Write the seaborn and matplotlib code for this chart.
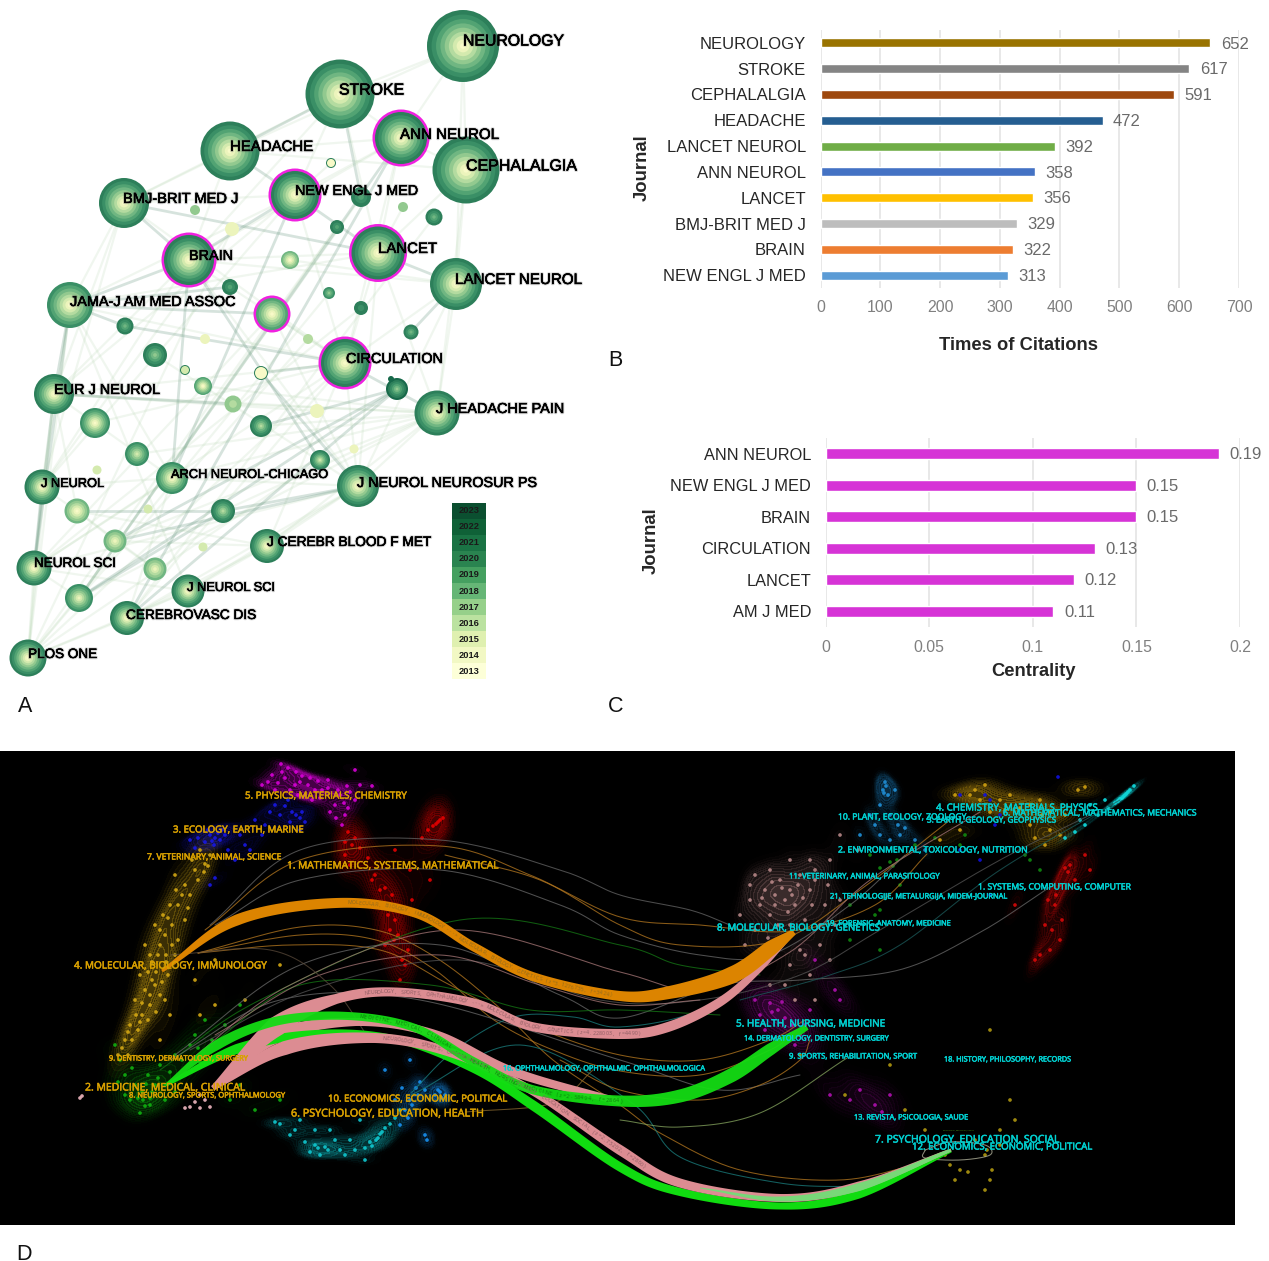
import numpy as np
import pandas as pd
import matplotlib
matplotlib.use('Agg')
import matplotlib.pyplot as plt
import matplotlib.patheffects as pe
from matplotlib.colors import ListedColormap, LinearSegmentedColormap, to_rgb
from matplotlib.collections import LineCollection
import seaborn as sns

# Config
FIG_W, FIG_H = 1269, 1261
PX = 0.72  # points per pixel at dpi 100

# Panel B data
citation_journals = ['NEUROLOGY', 'STROKE', 'CEPHALALGIA', 'HEADACHE', 'LANCET NEUROL',
                     'ANN NEUROL', 'LANCET', 'BMJ-BRIT MED J', 'BRAIN', 'NEW ENGL J MED']
citation_counts = [652, 617, 591, 472, 392, 358, 356, 329, 322, 313]
citation_colors = ['#997300', '#848484', '#9e480e', '#255e91', '#70ad47',
                   '#4472c4', '#ffc000', '#bdbdbd', '#ed7d31', '#5b9bd5']

# Panel C data
central_journals = ['ANN NEUROL', 'NEW ENGL J MED', 'BRAIN', 'CIRCULATION', 'LANCET', 'AM J MED']
central_values = [0.19, 0.15, 0.15, 0.13, 0.12, 0.11]

# Panel A data: id, x, y, radius, first year, last year, burst ring, rim
node_ids = ['NEURO', 'STROKE', 'ANN', 'CEPH', 'HEAD', 'NEJM', 'BMJ', 'LANCET', 'LN', 'BRAIN', 'JAMA', 'M1',
            'CIRC', 'EUR', 'JHP', 'ARCH', 'JN', 'JNNP', 'JCBFM', 'NS', 'JNS', 'CD', 'PLOS',
            's1', 's2', 's3', 's4', 's5', 's6', 's7', 's8', 's9', 's10', 's11', 's12', 's13', 's14', 's15', 's16',
            's17', 's18', 's19', 's20', 's21', 's22', 's23', 's24', 's25', 's26', 's27', 's28', 's29', 's30',
            's31', 's32', 's33', 's34', 's35', 's36']
node_x = [463, 340, 401, 466, 230, 295, 124, 378, 456, 189, 70, 272,
          345, 54, 437, 172, 42, 358, 267, 34, 188, 127, 28,
          331, 361, 195, 403, 434, 337, 232, 290, 230, 329, 361, 125, 411, 205, 308, 155,
          185, 261, 203, 233, 317, 397, 391, 95, 261, 354, 137, 320, 97, 77,
          148, 223, 115, 203, 155, 79]
node_y = [46, 94, 138, 170, 151, 195, 203, 253, 284, 260, 305, 314,
          363, 394, 413, 478, 487, 486, 546, 568, 591, 618, 658,
          163, 197, 210, 207, 217, 227, 229, 260, 287, 293, 308, 326, 332, 339, 339, 355,
          370, 373, 386, 404, 411, 389, 379, 423, 426, 449, 454, 460, 470, 511,
          509, 511, 541, 547, 569, 598]
node_r = [36, 34.5, 26, 33.5, 29.5, 24, 25, 26.5, 26, 25, 23, 16,
          24, 20, 22.5, 16, 17.5, 21, 17, 17.5, 16.5, 17, 18.5,
          5, 10, 5, 5, 8.5, 7, 7, 9, 8, 6, 7, 8.5, 7.5, 5, 5, 12,
          5, 7, 9, 8.5, 7, 11, 3, 15, 11, 4.5, 12, 10, 4.5, 12.5,
          4.5, 12, 11.5, 4.5, 11.5, 14]
node_first = [2013] * 23 + [2013, 2019, 2017, 2017, 2018, 2019, 2014, 2013, 2019, 2017, 2020, 2018, 2018, 2014, 2016, 2017,
                            2015, 2013, 2013, 2016, 2014, 2017, 2022, 2013, 2016, 2014, 2015, 2015, 2015, 2013,
                            2015, 2016, 2014, 2015, 2014, 2014]
node_last = [2021, 2021, 2021, 2021, 2021, 2021, 2021, 2021, 2021, 2021, 2020, 2019,
             2021, 2021, 2021, 2020, 2021, 2021, 2021, 2021, 2021, 2021, 2021,
             2013, 2021, 2017, 2017, 2021, 2021, 2014, 2018, 2021, 2020, 2021, 2021, 2021, 2014, 2016, 2021,
             2015, 2013, 2019, 2017, 2014, 2022, 2022, 2020, 2021, 2014, 2020, 2021, 2015, 2018,
             2015, 2021, 2018, 2015, 2018, 2020]
burst_nodes = ['ANN', 'NEJM', 'LANCET', 'BRAIN', 'M1', 'CIRC']
rim_nodes = ['s1', 's17', 's18']

label_ids = ['NEURO', 'STROKE', 'ANN', 'CEPH', 'HEAD', 'NEJM', 'BMJ', 'BRAIN', 'LANCET', 'LN', 'JAMA', 'CIRC',
             'EUR', 'JHP', 'ARCH', 'JN', 'JNNP', 'JCBFM', 'NS', 'JNS', 'CD', 'PLOS']
label_text = ['NEUROLOGY', 'STROKE', 'ANN NEUROL', 'CEPHALALGIA', 'HEADACHE', 'NEW ENGL J MED', 'BMJ-BRIT MED J',
              'BRAIN', 'LANCET', 'LANCET NEUROL', 'JAMA-J AM MED ASSOC', 'CIRCULATION', 'EUR J NEUROL',
              'J HEADACHE PAIN', 'ARCH NEUROL-CHICAGO', 'J NEUROL', 'J NEUROL NEUROSUR PS', 'J CEREBR BLOOD F MET',
              'NEUROL SCI', 'J NEUROL SCI', 'CEREBROVASC DIS', 'PLOS ONE']
label_left = [463, 339, 400, 466, 230, 295, 123, 189, 378, 455, 70, 346, 54, 436, 171, 41, 357, 267, 34, 187, 126, 28]
label_mid = [41, 90, 135, 166, 147, 191, 199, 256, 249, 280, 302, 359, 390, 409, 475, 484, 483, 542, 564, 588, 615, 654]
label_width = [101, 65, 99, 111, 83, 123, 115, 44, 59, 127, 165, 97, 106, 128, 157, 63, 180, 164, 82, 88, 130, 69]

strong_edges = [('STROKE', 'HEAD'), ('HEAD', 'NEJM'), ('NEJM', 'LANCET'), ('BMJ', 'BRAIN'), ('BMJ', 'LANCET'),
                ('BRAIN', 'JAMA'), ('BRAIN', 'NEJM'), ('JAMA', 'NS'), ('JAMA', 'EUR'), ('EUR', 'NS'), ('JN', 'NS'),
                ('ANN', 's36'), ('ANN', 'CD'), ('LANCET', 'LN'), ('CIRC', 'JHP'), ('s22', 's36'), ('s22', 'CD'),
                ('s22', 's33'), ('s18', 'JNNP'), ('BRAIN', 's28'), ('JNNP', 's32'), ('JNNP', 's33'), ('s30', 's32'),
                ('s32', 's36'), ('JAMA', 'M1'), ('s22', 's25'), ('CIRC', 's18'), ('STROKE', 's2'), ('LN', 's13'),
                ('JAMA', 's12'), ('s12', 'CIRC'), ('BRAIN', 'ARCH'), ('NEJM', 'ARCH'), ('EUR', 's20'), ('JAMA', 's9')]
pale_edges = [('NEURO', 'STROKE'), ('NEURO', 'ANN'), ('NEURO', 'CEPH'), ('NEURO', 'HEAD'), ('NEURO', 'LN'),
              ('STROKE', 'ANN'), ('STROKE', 'NEJM'), ('STROKE', 'LANCET'), ('STROKE', 'BMJ'), ('STROKE', 'BRAIN'),
              ('ANN', 'CEPH'), ('ANN', 'NEJM'), ('ANN', 'LANCET'), ('ANN', 'HEAD'), ('ANN', 'BRAIN'), ('ANN', 'CIRC'),
              ('CEPH', 'LANCET'), ('CEPH', 'LN'), ('CEPH', 'JHP'), ('CEPH', 'HEAD'), ('HEAD', 'BMJ'), ('HEAD', 'BRAIN'),
              ('BMJ', 'JAMA'), ('BMJ', 'NEJM'), ('BMJ', 'EUR'), ('BMJ', 'CIRC'), ('BMJ', 'JN'), ('NEJM', 'JAMA'),
              ('NEJM', 'CIRC'), ('NEJM', 'EUR'), ('NEJM', 'JN'), ('LANCET', 'CIRC'), ('LANCET', 'BRAIN'), ('LANCET', 'JAMA'),
              ('LANCET', 'JNNP'), ('LANCET', 'JHP'), ('LN', 'CIRC'), ('LN', 'JHP'), ('LN', 'JNNP'), ('LN', 'BRAIN'),
              ('BRAIN', 'CIRC'), ('BRAIN', 'EUR'), ('BRAIN', 'JN'), ('BRAIN', 'JNNP'), ('JAMA', 'CIRC'), ('JAMA', 'JN'),
              ('JAMA', 'PLOS'), ('JAMA', 'ARCH'), ('JAMA', 'JNS'), ('M1', 'CIRC'), ('M1', 'NS'), ('M1', 'JNNP'),
              ('CIRC', 'JNNP'), ('CIRC', 'JCBFM'), ('CIRC', 'EUR'), ('CIRC', 'CD'), ('CIRC', 'NS'), ('CIRC', 'PLOS'),
              ('EUR', 'JN'), ('EUR', 'JHP'), ('EUR', 'PLOS'), ('EUR', 's30'), ('EUR', 'ARCH'), ('JHP', 'JNNP'),
              ('JHP', 'JCBFM'), ('JHP', 's32'), ('JHP', 's36'), ('JHP', 's33'), ('JHP', 'ARCH'), ('ARCH', 'JNNP'),
              ('ARCH', 'NS'), ('ARCH', 'CD'), ('ARCH', 'JN'), ('JN', 's30'), ('JN', 'PLOS'), ('JNNP', 'JCBFM'),
              ('JNNP', 'NS'), ('JNNP', 'JNS'), ('JNNP', 'CD'), ('JCBFM', 'CD'), ('JCBFM', 'JNS'), ('JCBFM', 's33'),
              ('JCBFM', 's30'), ('NS', 'PLOS'), ('NS', 's36'), ('NS', 'JNS'), ('JNS', 'CD'), ('JNS', 'PLOS'),
              ('CD', 'PLOS'), ('s36', 'PLOS'), ('s30', 's35'), ('s33', 's35'), ('s30', 's33'), ('s24', 'CIRC'),
              ('s27', 'JHP'), ('s16', 'JNNP'), ('s19', 'JHP'), ('s20', 'JHP'), ('s25', 'JHP'), ('s28', 'PLOS'),
              ('s10', 'PLOS'), ('s6', 'PLOS'), ('s6', 's36'), ('s2', 's36'), ('s5', 'CD'), ('s11', 'NS'), ('s8', 'LN'),
              ('s7', 'PLOS'), ('s7', 'JN'), ('s1', 'NEJM'), ('s4', 'LANCET'), ('s15', 's36'), ('s21', 'EUR')]
year_ticks = list(range(2023, 2012, -1))
year_scale_colors = ['#0b4f30', '#0f6137', '#1a7344', '#2a8450', '#45a060', '#66b676',
                     '#96d08a', '#bbe2a0', '#dff0b0', '#f2f8c4', '#fdffd8']
ring_colors = ['#0f5c3c', '#17694a', '#2d7f5a', '#3a8f66', '#52a373', '#70b682',
               '#92c98f', '#b4dba0', '#d4eaae', '#ecf4bc', '#f8fac8']

# Panel D data: point clouds, pixel readings of the map
cloud_points = {
    'magenta': [(281, 764), (272, 775), (285, 778), (296, 772), (300, 782), (308, 785), (318, 781), (328, 788), (340, 795),
                (347, 786), (355, 770), (372, 786), (262, 785), (275, 790), (290, 790), (305, 795), (320, 798), (335, 805),
                (345, 815), (342, 825), (330, 812), (355, 800), (310, 778), (295, 785), (282, 772), (338, 790), (322, 790),
                (268, 782), (288, 768), (302, 776), (315, 790), (328, 780), (344, 803), (350, 792), (360, 785), (336, 818),
                (348, 808), (312, 800), (298, 795), (278, 783)],
    'blue': [(215, 838), (210, 835), (220, 840), (225, 835), (205, 842), (195, 848), (285, 806), (280, 815), (300, 818),
             (305, 822), (290, 822), (270, 812), (255, 820), (240, 835), (228, 850), (245, 845), (262, 835), (215, 878),
             (210, 885), (300, 830), (235, 860), (190, 840), (288, 800), (296, 815), (218, 833), (212, 841), (214, 845),
             (222, 830), (208, 830), (198, 838), (275, 805), (292, 812), (302, 812), (250, 850), (265, 825)],
    'gold': [(205, 864), (210, 855), (200, 850), (195, 870), (185, 885), (178, 905), (172, 925), (165, 935), (160, 945),
             (158, 955), (152, 962), (148, 972), (155, 985), (145, 990), (160, 995), (150, 1005), (142, 1015), (130, 1025),
             (138, 1030), (125, 1040), (118, 1055), (128, 1055), (165, 1000), (168, 975), (175, 955), (185, 920), (170, 905),
             (190, 895), (175, 875), (155, 925), (145, 945), (135, 1000), (170, 1015), (200, 1015), (215, 1005), (245, 1000),
             (280, 965), (195, 980), (215, 960), (160, 1040), (178, 940), (163, 915), (150, 955), (140, 975), (182, 895),
             (176, 890), (188, 908), (168, 918), (160, 930), (172, 945), (166, 955), (156, 972), (162, 982), (150, 995),
             (142, 1003), (136, 1015), (148, 1020), (132, 1040), (122, 1048), (204, 872), (198, 880), (192, 860), (208, 866),
             (166, 962), (152, 980), (140, 1022), (156, 1012), (128, 1032)],
    'red': [(443, 818), (438, 822), (433, 826), (428, 830), (422, 838), (348, 832), (352, 845), (345, 855), (360, 848),
            (368, 858), (375, 875), (380, 890), (390, 905), (395, 920), (390, 930), (385, 945), (398, 935), (408, 950),
            (405, 965), (400, 980), (412, 900), (430, 880), (410, 870), (395, 850), (350, 865), (345, 842), (355, 838),
            (440, 820), (436, 824), (372, 880), (385, 888), (388, 915), (392, 895), (402, 960), (394, 940)],
    'green': [(140, 1113), (145, 1106), (150, 1098), (142, 1092), (155, 1085), (148, 1075), (135, 1085), (125, 1075),
              (130, 1100), (165, 1100), (175, 1092), (185, 1075), (200, 1062), (212, 1040), (205, 1020), (195, 1035),
              (120, 1060), (115, 1045), (160, 1065), (175, 1055), (190, 1045), (225, 1025), (240, 1085), (255, 1110),
              (280, 1100), (230, 1100), (150, 1105), (143, 1100), (165, 1085), (240, 1005), (125, 1095), (152, 1092),
              (138, 1098), (146, 1084), (158, 1078), (170, 1072), (132, 1068), (118, 1082), (182, 1060), (198, 1048)],
    'pink': [(200, 1108), (190, 1107), (210, 1107), (195, 1102), (205, 1100), (200, 1095), (80, 1098), (82, 1096),
             (215, 1085), (185, 1108)],
    'teal': [(380, 1134), (385, 1128), (376, 1140), (372, 1146), (390, 1124), (365, 1148), (340, 1150), (325, 1147),
             (315, 1145), (305, 1142), (295, 1130), (280, 1124), (300, 1120), (330, 1130), (350, 1140), (360, 1120),
             (345, 1155), (320, 1155), (335, 1140), (315, 1130), (275, 1122), (395, 1118), (400, 1110), (365, 1160),
             (378, 1138), (382, 1132), (370, 1142), (318, 1148), (328, 1150), (310, 1152), (290, 1135), (355, 1150)],
    'sky': [(440, 1092), (435, 1095), (445, 1095), (420, 1082), (418, 1095), (410, 1100), (405, 1110), (400, 1125),
            (425, 1135), (427, 1140), (412, 1105), (395, 1100), (385, 1070), (410, 1060), (425, 1090), (402, 1088),
            (438, 1090), (442, 1098), (416, 1088), (408, 1118)],
    'r_cyan': [(1134, 786), (1130, 790), (1126, 794), (1122, 798), (1118, 801), (1115, 803), (1108, 808), (1098, 815),
               (1085, 825), (1075, 832), (1105, 800), (1090, 805), (1080, 820), (1065, 838), (1128, 792), (1124, 796),
               (1120, 799)],
    'r_sky': [(885, 782), (883, 790), (888, 795), (880, 805), (890, 815), (875, 825), (905, 828), (900, 835), (860, 835),
              (890, 840), (915, 840), (925, 850), (895, 790), (870, 815), (886, 786), (884, 793), (898, 825), (880, 835)],
    'r_gold': [(975, 790), (985, 785), (955, 795), (1000, 800), (1010, 795), (1040, 800), (1078, 790), (1085, 787),
               (1050, 812), (1030, 825), (1050, 830), (1060, 835), (1020, 808), (960, 830), (940, 840), (1045, 845),
               (1065, 815), (990, 812), (1035, 838), (970, 795), (980, 800), (1005, 810), (1030, 805), (1042, 815)],
    'r_blue': [(1058, 777), (985, 795), (990, 800), (1000, 815), (960, 795), (995, 825), (980, 860), (990, 895), (960, 850)],
    'r_green': [(897, 860), (890, 862), (880, 868), (870, 855), (965, 835), (960, 845), (1030, 860), (1025, 855), (1040, 870),
                (880, 910), (875, 915), (850, 905), (915, 845), (935, 838), (900, 885), (850, 940), (880, 950), (893, 866)],
    'r_brown': [(790, 890), (785, 900), (795, 905), (775, 895), (765, 890), (780, 880), (800, 875), (810, 890), (815, 880),
                (760, 905), (750, 900), (770, 915), (805, 920), (825, 905), (740, 915), (755, 930), (790, 860), (810, 860),
                (830, 860), (840, 835), (755, 875), (770, 870), (800, 950), (790, 965), (770, 985), (810, 975), (830, 960),
                (820, 945), (795, 1000), (760, 950), (780, 945), (840, 900), (815, 870), (790, 925), (775, 905), (782, 888),
                (792, 895), (803, 898), (772, 882), (762, 898), (788, 912), (778, 925), (768, 938), (812, 905), (798, 885),
                (820, 925), (750, 885), (745, 945), (785, 985), (805, 955), (815, 1000), (835, 925), (828, 885), (858, 850)],
    'r_red': [(1065, 868), (1070, 865), (1085, 855), (1090, 870), (1060, 885), (1055, 905), (1062, 920), (1045, 925),
              (1060, 940), (1050, 950), (1035, 960), (1040, 955), (1075, 880), (1048, 900), (1015, 905), (1068, 872),
              (1056, 895), (1052, 930)],
    'r_magenta': [(778, 1010), (770, 1003), (785, 1018), (760, 1015), (755, 1000), (800, 1035), (805, 1025), (765, 1030),
                  (840, 1000), (835, 990), (810, 1010), (815, 960), (875, 1105), (882, 1112), (860, 1090), (850, 1100),
                  (890, 1095), (830, 1095), (795, 1045), (772, 1012), (782, 1002), (792, 1025)],
    'r_yellow': [(800, 1055), (905, 1110), (960, 1170), (950, 1165), (985, 1155), (987, 1150), (1000, 1145), (992, 1170),
                 (985, 1190), (990, 1180), (1010, 1100), (1015, 1120), (990, 1030), (845, 1095), (890, 1065), (925, 1130),
                 (1000, 1130), (955, 1180), (975, 1140), (968, 1172), (945, 1155)],
}
cloud_colors = {'magenta': '#d800d8', 'blue': '#1818e6', 'gold': '#d4a814', 'red': '#e60000', 'green': '#10b010',
                'pink': '#f0b8c0', 'teal': '#10c8d0', 'sky': '#1890f0', 'r_cyan': '#10dde0', 'r_sky': '#2090d8',
                'r_gold': '#d0a010', 'r_blue': '#1010e0', 'r_green': '#108810', 'r_brown': '#b88888',
                'r_red': '#d80808', 'r_magenta': '#b010b0', 'r_yellow': '#b09810'}
speckle_only = ['pink', 'r_yellow', 'r_blue', 'r_green']

# Main flows: waypoints and widths
flow_orange = [(162, 971), (237, 920), (336, 903), (415, 913), (474, 947), (534, 977), (620, 996), (672, 992), (732, 975), (771, 948), (794, 932)]
flow_orange_w = [3, 11, 10, 9, 9, 9, 10, 13, 17, 15, 6]
flow_pink_mol = [(213, 1088), (277, 1026), (336, 999), (395, 992), (474, 1003), (534, 1027), (620, 1034), (668, 1027), (720, 1002), (760, 968), (794, 933)]
flow_pink_mol_w = [5, 20, 10, 9, 9, 9, 10, 10, 9, 7, 2]
flow_pink_health = [(213, 1088), (277, 1036), (356, 1022), (435, 1034), (514, 1072), (620, 1102)]
flow_pink_health_w = [5, 14, 8, 8, 9, 7]
flow_pink_psy = [(213, 1088), (285, 1048), (375, 1038), (455, 1054), (534, 1092), (620, 1150), (680, 1183), (780, 1198), (859, 1186), (951, 1150)]
flow_pink_psy_w = [5, 14, 10, 9, 8, 10, 9, 8, 9, 3]
flow_lime_end = [(700, 1188), (780, 1199), (859, 1187), (951, 1150)]
flow_lime_end_w = [1, 5, 8, 3]
flow_green_health = [(166, 1085), (217, 1045), (277, 1021), (348, 1016), (415, 1028), (474, 1062), (534, 1090), (620, 1101), (680, 1096), (732, 1075), (771, 1049), (807, 1027)]
flow_green_health_w = [3, 10, 9, 8, 8, 9, 9, 11, 13, 14, 12, 6]
flow_green_psy = [(166, 1085), (237, 1049), (316, 1034), (395, 1039), (474, 1069), (534, 1106), (620, 1167), (680, 1192), (780, 1206), (859, 1194), (951, 1151)]
flow_green_psy_w = [3, 10, 8, 7, 8, 10, 9, 8, 7, 9, 3]

flow_text = [
    'MOLECULAR, BIOLOGY, IMMUNOLOGY ---> MOLECULAR, BIOLOGY, GENETICS (z=3.1276735, f=3424)',
    'NEUROLOGY, SPORTS, OPHTHALMOLOGY ---> MOLECULAR, BIOLOGY, GENETICS (z=4.228003, f=4490)',
    'MEDICINE, MEDICAL, CLINICAL ---> HEALTH, NURSING, MEDICINE (z=2.58494, f=2864)',
    'NEUROLOGY, SPORTS, OPHTHALMOLOGY ---> PSYCHOLOGY, EDUCATION, SOCIAL (z=2.73202, f=2860)',
]

thin_curves = [
    ('#b87a20', [(205, 930), (300, 860), (440, 846), (530, 875), (620, 917), (700, 925), (791, 931), (875, 905), (927, 854)]),
    ('#666666', [(210, 925), (300, 850), (440, 840), (560, 870), (620, 895), (690, 910), (730, 925)]),
    ('#b87a20', [(198, 953), (300, 927), (376, 930), (435, 957), (494, 1003), (553, 1060), (620, 1105), (660, 1133), (740, 1170), (840, 1180), (923, 1163)]),
    ('#b87a20', [(198, 953), (300, 935), (376, 940), (435, 970), (494, 1020), (553, 1050), (620, 1071), (700, 1075), (770, 1050), (797, 1030)]),
    ('#b87a20', [(198, 953), (290, 945), (380, 950), (450, 985), (530, 1025), (620, 1055), (700, 1060), (770, 1040), (805, 1020)]),
    ('#b87a20', [(445, 855), (540, 880), (620, 925), (680, 945), (780, 940), (860, 890), (950, 820)]),
    ('#157a15', [(160, 1070), (260, 1000), (460, 920), (620, 945), (680, 965), (760, 975)]),
    ('#a87878', [(190, 1060), (290, 985), (450, 930), (620, 972), (700, 990), (790, 952), (870, 880), (980, 812)]),
    ('#6a6a6a', [(170, 1060), (280, 1000), (420, 1000), (620, 1060), (720, 1090), (800, 1075)]),
    ('#1a8080', [(411, 1093), (455, 1050), (514, 1017), (573, 1017), (620, 1027), (700, 1010), (770, 960)]),
    ('#1a8080', [(411, 1095), (520, 1045), (632, 1103), (680, 1157), (780, 1183), (867, 1187)]),
    ('#6a6a6a', [(175, 1055), (300, 965), (440, 945), (560, 995), (620, 1018), (720, 985), (800, 980), (899, 970), (979, 933), (1050, 887)]),
    ('#88a860', [(620, 1120), (680, 1127), (760, 1113), (847, 1058)]),
    ('#b87a20', [(560, 1060), (620, 1090), (700, 1100), (760, 1085), (800, 1060), (810, 1040)]),
    ('#8a6a30', [(466, 1112), (553, 1103), (593, 1070)]),
    ('#555555', [(190, 1050), (310, 990), (460, 960), (600, 1000), (700, 1000), (800, 975), (880, 930), (1000, 860), (1090, 815)]),
    ('#1c5c5c', [(740, 1000), (830, 975), (900, 945), (1000, 870), (1120, 800)]),
    ('#157a15', [(210, 1045), (300, 985), (430, 985), (530, 1010), (620, 1010), (720, 1015)]),
    ('#a87878', [(215, 1035), (320, 975), (440, 955), (540, 985), (620, 1005), (700, 1000)]),
    ('#5a4a3a', [(170, 955), (270, 950), (330, 985), (370, 1040)]),
    ('#b8b8a0', [(925, 1150), (950, 1142), (985, 1145), (990, 1155), (960, 1160), (925, 1158), (925, 1150)]),
    ('#6a6a6a', [(215, 925), (300, 880), (440, 870), (560, 905), (620, 935), (700, 955), (770, 955), (850, 905), (905, 855)]),
]

# Labels of the left map: text, left px, right px, mid-height px
left_map_text = ['5. PHYSICS, MATERIALS, CHEMISTRY', '3. ECOLOGY, EARTH, MARINE', '7. VETERINARY, ANIMAL, SCIENCE',
                 '1. MATHEMATICS, SYSTEMS, MATHEMATICAL', '4. MOLECULAR, BIOLOGY, IMMUNOLOGY',
                 '9. DENTISTRY, DERMATOLOGY, SURGERY', '2. MEDICINE, MEDICAL, CLINICAL',
                 '8. NEUROLOGY, SPORTS, OPHTHALMOLOGY', '10. ECONOMICS, ECONOMIC, POLITICAL',
                 '6. PSYCHOLOGY, EDUCATION, HEALTH']
left_map_x0 = [245, 173, 147, 287, 74, 109, 85, 129, 328, 291]
left_map_x1 = [407, 304, 282, 499, 267, 248, 246, 285, 507, 484]
left_map_y = [796, 830, 857, 866, 966, 1059, 1088, 1096, 1099, 1114]

right_map_text = ['4. CHEMISTRY, MATERIALS, PHYSICS', '6. MATHEMATICAL, MATHEMATICS, MECHANICS', '10. PLANT, ECOLOGY, ZOOLOGY',
                  '3. EARTH, GEOLOGY, GEOPHYSICS', '2. ENVIRONMENTAL, TOXICOLOGY, NUTRITION',
                  '11. VETERINARY, ANIMAL, PARASITOLOGY', '1. SYSTEMS, COMPUTING, COMPUTER',
                  '21. TEHNOLOGIJE, METALURGIJA, MIDEM-JOURNAL', '19. FORENSIC, ANATOMY, MEDICINE',
                  '8. MOLECULAR, BIOLOGY, GENETICS', '5. HEALTH, NURSING, MEDICINE', '14. DERMATOLOGY, DENTISTRY, SURGERY',
                  '9. SPORTS, REHABILITATION, SPORT', '18. HISTORY, PHILOSOPHY, RECORDS', '13. REVISTA, PSICOLOGIA, SAUDE',
                  '7. PSYCHOLOGY, EDUCATION, SOCIAL', '12. ECONOMICS, ECONOMIC, POLITICAL',
                  '16. OPHTHALMOLOGY, OPHTHALMIC, OPHTHALMOLOGICA']
right_map_x0 = [936, 1003, 838, 927, 838, 789, 978, 830, 826, 717, 736, 744, 789, 944, 854, 875, 912, 503]
right_map_x1 = [1098, 1197, 966, 1056, 1028, 940, 1131, 1008, 951, 880, 886, 889, 917, 1071, 968, 1059, 1092, 705]
right_map_y = [808, 813, 817, 821, 850, 877, 887, 897, 924, 928, 1024, 1039, 1057, 1060, 1118, 1140, 1147, 1069]


def px_axes(fig, left, top, right, bottom):
    """Axes placed by pixel box of the final picture."""
    return fig.add_axes([left / FIG_W, 1 - bottom / FIG_H, (right - left) / FIG_W, (bottom - top) / FIG_H])


def px_text(fig, x, y, s, **kws):
    return fig.text(x / FIG_W, 1 - y / FIG_H, s, **kws)


def fit_width(fig, txt, width):
    """Scale a text so it spans the given pixel width."""
    ext = txt.get_window_extent(fig.canvas.get_renderer())
    txt.set_fontsize(txt.get_fontsize() * width / ext.width)


def smooth(points, n=24):
    """Catmull-Rom curve through the waypoints."""
    p = np.array(points, dtype=float)
    p = np.vstack([2 * p[0] - p[1], p, 2 * p[-1] - p[-2]])
    t = np.linspace(0, 1, n, endpoint=False)[:, None]
    out = []
    for i in range(1, len(p) - 2):
        a, b, c, d = p[i - 1], p[i], p[i + 1], p[i + 2]
        out.append(0.5 * (2 * b + (c - a) * t + (2 * a - 5 * b + 4 * c - d) * t ** 2 + (3 * b - a - 3 * c + d) * t ** 3))
    out.append(p[-2][None, :])
    return np.vstack(out)


def draw_flow(ax, points, widths, color, alpha=1.0, zorder=4):
    curve = smooth(points)
    w = np.interp(np.linspace(0, len(widths) - 1, len(curve)), np.arange(len(widths)), widths)
    tangent = np.gradient(curve, axis=0)
    normal = np.c_[-tangent[:, 1], tangent[:, 0]] / np.linalg.norm(tangent, axis=1, keepdims=True)
    upper = curve + normal * w[:, None] / 2
    lower = curve - normal * w[:, None] / 2
    ax.fill(np.r_[upper[:, 0], lower[::-1, 0]], np.r_[upper[:, 1], lower[::-1, 1]], color=color, alpha=alpha, lw=0, zorder=zorder)
    return curve


def text_on_curve(ax, curve, s, start_x, step, color):
    """Tiny flow caption, one character at a time along the ribbon."""
    seg = np.r_[0, np.cumsum(np.linalg.norm(np.diff(curve, axis=0), axis=1))]
    s0 = np.interp(start_x, curve[:, 0], seg)
    for k, ch in enumerate(s):
        d = s0 + k * step
        if d > seg[-1]:
            break
        x = np.interp(d, seg, curve[:, 0])
        y = np.interp(d, seg, curve[:, 1])
        dx = np.interp(d + 1, seg, curve[:, 0]) - x
        dy = np.interp(d + 1, seg, curve[:, 1]) - y
        ax.text(x, y, ch, color=color, fontsize=3.7, rotation=np.degrees(np.arctan2(-dy, dx)),
                rotation_mode='anchor', ha='center', va='center', zorder=6, family='Open Sans')


def plot_network(fig):
    ax = px_axes(fig, 0, 0, 600, 720)
    ax.set_xlim(0, 600)
    ax.set_ylim(720, 0)
    ax.axis('off')

    pos = dict(zip(node_ids, zip(node_x, node_y)))
    pale = LineCollection([[pos[a], pos[b]] for a, b in pale_edges], colors='#b5d6b0', linewidths=1.6, alpha=0.2, zorder=1)
    dark = LineCollection([[pos[a], pos[b]] for a, b in strong_edges], colors='#6f9c86', linewidths=2.0, alpha=0.28, zorder=1)
    ax.add_collection(pale)
    ax.add_collection(dark)

    palette = dict(zip(year_ticks, ring_colors))
    rows = []
    for nid, x, y, r, first, last in zip(node_ids, node_x, node_y, node_r, node_first, node_last):
        if nid in burst_nodes:
            rows.append((x, y, r + 2.5, '#f020e0'))
        if nid in rim_nodes:
            rows.append((x, y, r, 2021))
            r = r - 1
        years = list(range(last, first - 1, -1))
        for k, yr in enumerate(years):
            rows.append((x, y, r * ((len(years) - k) / len(years)) ** 1.15, yr))
    rings = pd.DataFrame(rows, columns=['x', 'y', 'r', 'shade'])
    rings['s'] = (2 * rings['r'] * PX) ** 2

    palette_all = {**palette, '#f020e0': '#f020e0'}
    sns.scatterplot(data=rings, x='x', y='y', hue='shade', palette=palette_all, s=rings['s'].values, linewidth=0,
                    legend=False, ax=ax, zorder=3)
    ax.set_xlabel('')
    ax.set_ylabel('')
    ax.set_xlim(0, 600)
    ax.set_ylim(720, 0)

    for s, nid, x0, ymid, w in zip(label_text, label_ids, label_left, label_mid, label_width):
        t = ax.text(x0, ymid, s, fontsize=10, color='black', va='center', ha='left', zorder=5,
                    path_effects=[pe.withStroke(linewidth=1.7, foreground=(0.4, 0.4, 0.4, 0.3)),
                                  pe.withStroke(linewidth=0.2, foreground='black')])
        fit_width(fig, t, w)

    # Year scale
    bar = px_axes(fig, 452, 503, 486, 679)
    shades = list(reversed(year_scale_colors))
    sns.heatmap(np.array(year_ticks)[:, None], annot=True, fmt='d', cmap=ListedColormap(shades), vmin=2012.5, vmax=2023.5,
                cbar=False, xticklabels=False, yticklabels=False, annot_kws={'fontsize': 6.7, 'fontweight': 'bold'}, ax=bar)
    for t in bar.texts:
        t.set_color('#1a1a1a')


def style_bars(ax, fmt, pad, label_size):
    for side in ax.spines.values():
        side.set_visible(False)
    ax.grid(axis='x', color='#e4e4e4', lw=1.2)
    ax.grid(axis='y', visible=False)
    ax.set_axisbelow(True)
    ax.set_xlabel('')
    ax.set_ylabel('')
    ax.tick_params(axis='y', length=0, pad=10.5, labelsize=label_size, labelcolor='#262626')
    ax.tick_params(axis='x', length=0, pad=9, labelsize=11.4, labelcolor='#808080')
    for cont in ax.containers:
        for lab in ax.bar_label(cont, fmt=fmt, padding=pad, fontsize=12, color='#6a6a6a'):
            lab.xyann = (lab.xyann[0], -0.8)


def plot_citations(fig):
    ax = px_axes(fig, 820.5, 30, 1239, 288)
    df = pd.DataFrame({'journal': citation_journals, 'count': citation_counts})
    sns.barplot(data=df, x='count', y='journal', hue='journal', palette=citation_colors, legend=False,
                width=0.35, orient='h', saturation=1, ax=ax)
    ax.set_xlim(0, 700)
    ax.set_xticks(range(0, 701, 100))
    style_bars(ax, '%d', 7.5, 12)
    px_text(fig, 1018, 346, 'Times of Citations', fontsize=13.2, fontweight='bold', ha='center', va='center')
    px_text(fig, 642.5, 168, 'Journal', fontsize=13.3, fontweight='bold', rotation=90, ha='center', va='center')


def plot_centrality(fig):
    ax = px_axes(fig, 825.5, 438, 1240, 627)
    df = pd.DataFrame({'journal': central_journals, 'centrality': central_values})
    sns.barplot(data=df, x='centrality', y='journal', color='#d633d6', width=0.35, orient='h', saturation=1, ax=ax)
    ax.set_xlim(0, 0.2)
    ax.set_xticks([0, 0.05, 0.1, 0.15, 0.2])
    ax.set_xticklabels(['0', '0.05', '0.1', '0.15', '0.2'])
    style_bars(ax, '%g', 7.5, 11.8)
    px_text(fig, 1033, 672, 'Centrality', fontsize=13.2, fontweight='bold', ha='center', va='center')
    px_text(fig, 651.5, 541, 'Journal', fontsize=13.3, fontweight='bold', rotation=90, ha='center', va='center')


def plot_overlay(fig):
    ax = px_axes(fig, 0, 751, 1235, 1225)
    ax.set_xticks([])
    ax.set_yticks([])
    ax.set_facecolor('black')
    for side in ax.spines.values():
        side.set_visible(False)

    frames = [pd.DataFrame(pts, columns=['x', 'y']).assign(group=name) for name, pts in cloud_points.items()]
    clouds = pd.concat(frames, ignore_index=True)
    for name, pts in clouds.groupby('group'):
        if name in speckle_only:
            continue
        rgb = to_rgb(cloud_colors[name])
        haze = LinearSegmentedColormap.from_list(name, [(*rgb, 0.0), (*rgb, 0.34)])
        sns.kdeplot(data=pts, x='x', y='y', fill=True, levels=14, thresh=0.06, bw_adjust=0.6, cmap=haze,
                    antialiased=False, ax=ax, zorder=1)
    sns.scatterplot(data=clouds, x='x', y='y', hue='group', palette=cloud_colors, s=7, alpha=0.9, linewidth=0,
                    legend=False, ax=ax, zorder=2)
    ax.set_xlabel('')
    ax.set_ylabel('')

    for color, pts in thin_curves:
        c = smooth(pts)
        sns.lineplot(x=c[:, 0], y=c[:, 1], sort=False, estimator=None, color=color, lw=0.75, alpha=0.75, ax=ax, zorder=3)

    draw_flow(ax, flow_pink_health, flow_pink_health_w, '#dc8c92')
    draw_flow(ax, flow_green_psy, flow_green_psy_w, '#10dc10')
    c_pink_psy = draw_flow(ax, flow_pink_psy, flow_pink_psy_w, '#dc8c92', zorder=4.2)
    draw_flow(ax, flow_lime_end, flow_lime_end_w, '#78d878', zorder=4.25)
    c_pink_mol = draw_flow(ax, flow_pink_mol, flow_pink_mol_w, '#dc8c92')
    c_orange = draw_flow(ax, flow_orange, flow_orange_w, '#dc8400', zorder=4.3)
    c_green = draw_flow(ax, flow_green_health, flow_green_health_w, '#14dc14', alpha=0.95, zorder=4.4)

    text_on_curve(ax, c_orange, flow_text[0], 350, 3.3, '#8c6a20')
    text_on_curve(ax, c_pink_mol, flow_text[1], 366, 3.25, '#8a5a60')
    text_on_curve(ax, c_green, flow_text[2], 362, 3.6, '#0a7a0a')
    text_on_curve(ax, c_pink_psy, flow_text[3], 385, 3.4, '#8a5a60')

    ax.set_xlim(0, 1235)
    ax.set_ylim(1225, 751)

    for s, x0, x1, y in zip(left_map_text, left_map_x0, left_map_x1, left_map_y):
        t = ax.text(x0, y, s, color='#d8a000', fontsize=8, family='Open Sans', va='center', ha='left', zorder=7,
                    path_effects=[pe.withStroke(linewidth=0.4, foreground='#d8a000')])
        fit_width(fig, t, x1 - x0)
    for s, x0, x1, y in zip(right_map_text, right_map_x0, right_map_x1, right_map_y):
        t = ax.text(x0, y, s, color='#00cfd0', fontsize=8, family='Open Sans', va='center', ha='left', zorder=7,
                    path_effects=[pe.withStroke(linewidth=0.4, foreground='#00cfd0')])
        fit_width(fig, t, x1 - x0)
    t = ax.text(943, 1130, 'PSYCHOLOGY, EDUCATION, SOCIAL', color='#58b020', fontsize=3, family='Open Sans',
                va='center', ha='left', zorder=7)
    fit_width(fig, t, 32)


def main():
    sns.set_theme(style='white')
    plt.rcParams['font.family'] = ['Liberation Sans', 'DejaVu Sans']
    fig = plt.figure(figsize=(FIG_W / 100, FIG_H / 100), dpi=100, facecolor='white')
    fig.canvas.get_renderer()

    plot_network(fig)
    plot_citations(fig)
    plot_centrality(fig)
    plot_overlay(fig)

    for s, x, y in [('A', 18, 707), ('B', 608, 361), ('C', 608, 707), ('D', 16, 1255)]:
        px_text(fig, x, y, s, fontsize=15.5, color='#111111', ha='left', va='center')

    fig.savefig('out.png', dpi=100, facecolor='white')
    plt.close(fig)


if __name__ == '__main__':
    main()
